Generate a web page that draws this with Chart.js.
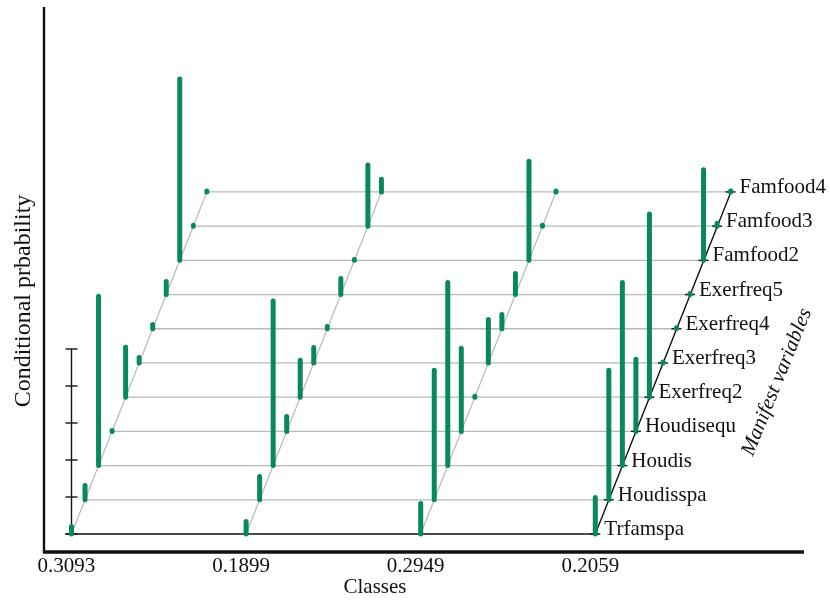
<!DOCTYPE html>
<html>
<head>
<meta charset="utf-8">
<title>Conditional probability by class</title>
<style>
  html, body { margin: 0; padding: 0; background: #ffffff; }
  #wrap { width: 830px; height: 601px; position: relative; }
</style>
<script src="https://cdn.jsdelivr.net/npm/chart.js@4/dist/chart.umd.min.js"></script>
</head>
<body>
<div id="wrap"><canvas id="chart" width="830" height="601"></canvas></div>
<script>
// Latent classes (class sizes shown as axis labels)
const classLabels = ['0.3093', '0.1899', '0.2949', '0.2059'];

// Manifest variables, front to back
const variables = ['Trfamspa', 'Houdisspa', 'Houdis', 'Houdisequ', 'Exerfreq2',
                   'Exerfreq3', 'Exerfreq4', 'Exerfreq5', 'Famfood2', 'Famfood3', 'Famfood4'];

// Conditional probabilities per class, same order as `variables`
const class1 = [0.040, 0.077, 0.915, 0.005, 0.270, 0.030, 0.023, 0.070, 0.980, 0.005, 0.005];
const class2 = [0.068, 0.126, 0.890, 0.080, 0.200, 0.084, 0.012, 0.087, 0.005, 0.330, 0.068];
const class3 = [0.165, 0.700, 0.990, 0.450, 0.005, 0.235, 0.077, 0.114, 0.535, 0.005, 0.005];
const class4 = [0.197, 0.700, 0.990, 0.390, 0.990, 0.005, 0.005, 0.005, 0.490, 0.015, 0.005];
const classValues = [class1, class2, class3, class4];

// Probability ticks on the small vertical reference scale
const zTicks = [0, 0.2, 0.4, 0.6, 0.8, 1.0];

// Oblique projection: each variable steps back and to the right
const DEPTH_STEP = 0.0775;   // x shift per variable (class units)
const LEVEL_STEP = 0.1849;   // y shift per variable (probability units)

const GREEN = '#08885d';
const GRID = '#b9b9b9';
const INK = '#111111';
const SERIF = '"Liberation Serif", "Times New Roman", "DejaVu Serif", serif';

const depthX = (ci, vi) => ci + vi * DEPTH_STEP;
const levelY = vi => vi * LEVEL_STEP;

// One dataset per class: a vertical stick per variable, broken by gaps
const datasets = classValues.map((vals, ci) => ({
  label: 'Class ' + classLabels[ci],
  data: vals.flatMap((p, vi) => [
    { x: depthX(ci, vi), y: levelY(vi) },
    { x: depthX(ci, vi), y: levelY(vi) + p },
    { x: depthX(ci, vi), y: null }
  ]),
  showLine: true,
  spanGaps: false,
  borderColor: GREEN,
  backgroundColor: GREEN,
  borderWidth: 5,
  borderCapStyle: 'round',
  pointRadius: 0,
  pointHoverRadius: 0,
  order: 1
}));

function line(ctx, x1, y1, x2, y2, color, width) {
  ctx.save();
  ctx.strokeStyle = color;
  ctx.lineWidth = width;
  ctx.beginPath();
  ctx.moveTo(x1, y1);
  ctx.lineTo(x2, y2);
  ctx.stroke();
  ctx.restore();
}

// Floor grid, projected class/variable axes and the outer frame
const scaffold = {
  id: 'scaffold',
  beforeDatasetsDraw(chart) {
    const { ctx, scales: { x, y } } = chart;
    const last = classLabels.length - 1;
    const top = variables.length - 1;
    const X = (ci, vi) => x.getPixelForValue(depthX(ci, vi));
    const Y = (vi, p = 0) => y.getPixelForValue(levelY(vi) + p);

    // variable levels (back ones grey)
    for (let vi = 1; vi < variables.length; vi++) {
      line(ctx, X(0, vi), Y(vi), X(last, vi), Y(vi), GRID, 1.3);
    }
    // class depth lines
    for (let ci = 0; ci < last; ci++) {
      line(ctx, X(ci, 0), Y(0), X(ci, top), Y(top), GRID, 1.2);
    }
    // front level
    line(ctx, X(0, 0) - 6, Y(0), X(last, 0) + 3, Y(0), INK, 1.6);
    // labelled variable axis
    line(ctx, X(last, 0), Y(0), X(last, top) + 1.5, Y(top) - 3, INK, 1.4);
    for (let vi = 0; vi < variables.length; vi++) {
      line(ctx, X(last, vi) - 5, Y(vi), X(last, vi) + 5, Y(vi), INK, 1.4);
    }
    // probability reference scale
    const zx = X(0, 0);
    line(ctx, zx, Y(0), zx, Y(0, zTicks[zTicks.length - 1]), INK, 1.4);
    zTicks.forEach(t => line(ctx, zx - 6, Y(0, t), zx + 6, Y(0, t), INK, 1.4));

    // outer frame
    const a = chart.chartArea;
    line(ctx, a.left, a.top, a.left, a.bottom + 1, INK, 2.4);
    line(ctx, a.left - 1, a.bottom, a.right, a.bottom, INK, 3.6);
  },
  afterDatasetsDraw(chart) {
    const { ctx, scales: { x, y } } = chart;
    const last = classLabels.length - 1;
    const a = chart.chartArea;
    ctx.save();
    ctx.fillStyle = INK;

    // class labels under the frame
    ctx.font = '21px ' + SERIF;
    ctx.textAlign = 'center';
    ctx.textBaseline = 'alphabetic';
    classLabels.forEach((lab, ci) => {
      ctx.fillText(lab, x.getPixelForValue(ci) - 5, a.bottom + 20);
    });
    ctx.fillText('Classes', 375, a.bottom + 41);

    // variable names along the back axis
    ctx.textAlign = 'left';
    variables.forEach((name, vi) => {
      ctx.fillText(name, x.getPixelForValue(depthX(last, vi)) + 9,
                   y.getPixelForValue(levelY(vi)) + 1);
    });

    // vertical title
    ctx.save();
    ctx.translate(24, 301);
    ctx.rotate(-Math.PI / 2);
    ctx.textAlign = 'center';
    ctx.textBaseline = 'middle';
    ctx.font = '24px ' + SERIF;
    ctx.fillText('Conditional prbability', 0, 0);
    ctx.restore();

    // depth-axis title
    ctx.save();
    ctx.translate(777, 382);
    ctx.rotate(-68 * Math.PI / 180);
    ctx.textAlign = 'center';
    ctx.textBaseline = 'middle';
    ctx.font = 'italic 21px ' + SERIF;
    ctx.fillText('Manifest variables', 0, 0);
    ctx.restore();

    ctx.restore();
  }
};

new Chart(document.getElementById('chart'), {
  type: 'scatter',
  data: { datasets },
  options: {
    responsive: false,
    devicePixelRatio: 1,
    animation: false,
    layout: { padding: { left: 44, right: 26, top: 7, bottom: 49 } },
    plugins: { legend: { display: false }, tooltip: { enabled: false } },
    scales: {
      x: { type: 'linear', display: false, min: -0.1575, max: 4.1953 },
      y: { type: 'linear', display: false, min: -0.0973, max: 2.8486 }
    }
  },
  plugins: [scaffold]
});
</script>
</body>
</html>
